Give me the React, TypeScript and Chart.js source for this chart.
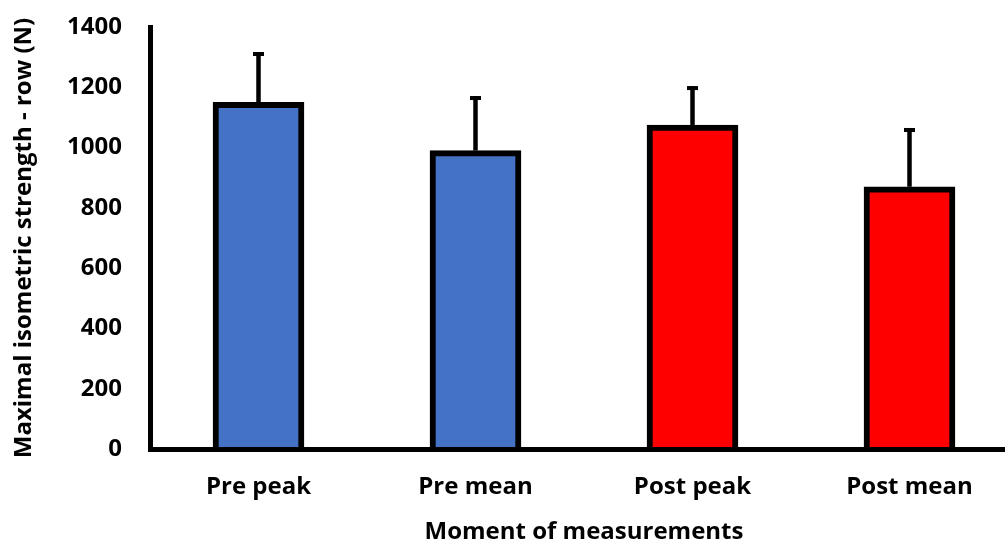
import React, { useEffect, useRef } from "react";
import { Chart, registerables } from "chart.js";

Chart.register(...registerables);

const categories = ["Pre peak", "Pre mean", "Post peak", "Post mean"];
const means = [1150, 990, 1075, 870];
const sds = [167, 181, 129, 195];
const barColors = ["#4472C4", "#4472C4", "#FF0000", "#FF0000"];
const yMin = 0;
const yMax = 1400;
const yStep = 200;
const xTitle = "Moment of measurements";
const yTitle = "Maximal isometric strength - row (N)";

const FONT = "'Open Sans', Lato, 'DejaVu Sans', sans-serif";

const errorBarPlugin = {
  id: "errorBars",
  afterDatasetsDraw(chart: any) {
    const ctx = chart.ctx;
    const meta = chart.getDatasetMeta(0);
    const y = chart.scales.y;
    ctx.save();
    ctx.strokeStyle = "#000";
    ctx.fillStyle = "#000";
    meta.data.forEach((bar: any, i: number) => {
      const x = bar.x;
      const y0 = y.getPixelForValue(means[i]);
      const y1 = y.getPixelForValue(means[i] + sds[i]);
      ctx.lineWidth = 4.5;
      ctx.beginPath();
      ctx.moveTo(x, y0);
      ctx.lineTo(x, y1);
      ctx.stroke();
      ctx.fillRect(x - 5.5, y1, 11, 4);
    });
    ctx.restore();
  },
};

export default function App() {
  const ref = useRef<HTMLCanvasElement | null>(null);
  useEffect(() => {
    if (!ref.current) return;
    const chart = new Chart(ref.current, {
      type: "bar",
      data: {
        labels: categories,
        datasets: [
          {
            data: means,
            backgroundColor: barColors,
            borderColor: "#000",
            borderWidth: 6,
            barThickness: 91,
          },
        ],
      },
      options: {
        responsive: false,
        animation: false,
        layout: { padding: { left: 0, right: 2, top: 27, bottom: 0 } },
        plugins: { legend: { display: false }, tooltip: { enabled: false } },
        scales: {
          x: {
            type: "category",
            offset: true,
            grid: { display: false, drawTicks: false },
            border: { display: true, color: "#000", width: 5, z: 1 },
            ticks: {
              color: "#000",
              padding: 24,
              font: { family: FONT, size: 24, weight: "bold" },
            },
            title: {
              display: true,
              text: xTitle,
              color: "#000",
              font: { family: FONT, size: 24, weight: "bold" },
              padding: { top: 0, bottom: -7 },
            },
            afterFit: (s: any) => {
              s.height = 91;
              s.paddingLeft = 0;
              s.paddingRight = 0;
            },
          },
          y: {
            min: yMin,
            max: yMax,
            grid: { display: false, drawTicks: false },
            border: { display: true, color: "#000", width: 5 },
            ticks: {
              stepSize: yStep,
              color: "#000",
              padding: 28,
              font: { family: FONT, size: 24, weight: "bold" },
              callback: (v: any) => String(v),
            },
            title: {
              display: true,
              text: yTitle,
              color: "#000",
              font: { family: FONT, size: 24, weight: "bold" },
              padding: { top: 10, bottom: 0 },
            },
            afterFit: (s: any) => {
              s.width = 150;
              s.paddingTop = 0;
              s.paddingBottom = 0;
            },
          },
        },
      },
      plugins: [errorBarPlugin],
    });
    return () => chart.destroy();
  }, []);
  return (
    <div
      style={{
        position: "fixed",
        left: 0,
        top: 0,
        width: 1005,
        height: 540,
        overflow: "hidden",
        background: "#fff",
      }}
    >
      <canvas ref={ref} width={1020} height={540} style={{ display: "block" }} />
    </div>
  );
}
